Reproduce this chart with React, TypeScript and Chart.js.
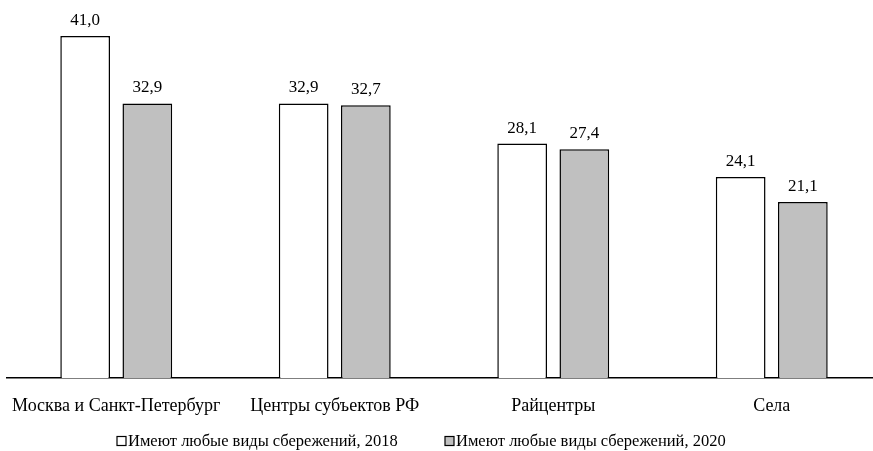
import React, { useEffect, useRef } from "react";
import { Chart, registerables } from "chart.js";

Chart.register(...registerables);

const categories = [
  "Москва и Санкт-Петербург",
  "Центры субъектов РФ",
  "Райцентры",
  "Села",
];
const series2018 = [41.0, 32.9, 28.1, 24.1];
const series2020 = [32.9, 32.7, 27.4, 21.1];
const seriesNames = [
  "Имеют любые виды сбережений, 2018",
  "Имеют любые виды сбережений, 2020",
];
const seriesColors = ["#ffffff", "#c0c0c0"];

const FONT = "'Liberation Serif', 'Times New Roman', serif";

const fmt = (v: number) => v.toFixed(1).replace(".", ",");

const valueLabels = {
  id: "valueLabels",
  afterDatasetsDraw(chart: any) {
    const ctx = chart.ctx;
    ctx.save();
    ctx.font = `17px ${FONT}`;
    ctx.fillStyle = "#000";
    ctx.textAlign = "center";
    ctx.textBaseline = "alphabetic";
    chart.data.datasets.forEach((ds: any, i: number) => {
      const meta = chart.getDatasetMeta(i);
      meta.data.forEach((bar: any, j: number) => {
        ctx.fillText(fmt(ds.data[j]), bar.x, bar.y - 11);
      });
    });
    ctx.restore();
  },
};

const customLegend = {
  id: "customLegend",
  afterDraw(chart: any) {
    const ctx = chart.ctx;
    ctx.save();
    ctx.font = `16.5px ${FONT}`;
    ctx.textBaseline = "middle";
    ctx.textAlign = "left";
    const xs = [117, 445];
    const y = 441;
    seriesNames.forEach((name, i) => {
      ctx.fillStyle = seriesColors[i];
      ctx.fillRect(xs[i], y - 4.5, 9, 9);
      ctx.strokeStyle = "#000";
      ctx.lineWidth = 1.2;
      ctx.strokeRect(xs[i], y - 4.5, 9, 9);
      ctx.fillStyle = "#000";
      ctx.fillText(name, xs[i] + 11, y + 1);
    });
    ctx.restore();
  },
};

export default function App() {
  const ref = useRef<HTMLCanvasElement | null>(null);
  useEffect(() => {
    if (!ref.current) return;
    const chart = new Chart(ref.current, {
      type: "bar",
      data: {
        labels: categories,
        datasets: [series2018, series2020].map((d, i) => ({
          label: seriesNames[i],
          data: d,
          backgroundColor: seriesColors[i],
          borderColor: "#000",
          borderWidth: 1.5,
          categoryPercentage: 0.569,
          barPercentage: 0.8,
        })),
      },
      options: {
        animation: false,
        responsive: false,
        devicePixelRatio: 1,
        layout: { padding: { left: 7, right: 0, top: 0, bottom: 0 } },
        plugins: {
          legend: { display: false },
          tooltip: { enabled: false },
        },
        scales: {
          x: {
            grid: { display: false, drawTicks: false },
            border: { display: true, color: "#000", width: 1.5 },
            ticks: {
              color: "#000",
              font: { family: FONT, size: 18 },
              padding: 17,
              maxRotation: 0,
              autoSkip: false,
            },
            afterFit: (scale: any) => {
              scale.height = 73;
              scale.paddingLeft = 0;
              scale.paddingRight = 0;
            },
          },
          y: {
            display: false,
            min: 0,
            max: 45.3,
          },
        },
      },
      plugins: [valueLabels, customLegend],
    });
    return () => chart.destroy();
  }, []);
  return (
    <div
      style={{
        position: "absolute",
        left: 0,
        top: 0,
        width: 873,
        height: 451,
        overflow: "hidden",
        background: "#fff",
      }}
    >
      <canvas ref={ref} width={881} height={451} style={{ width: 881, height: 451 }} />
    </div>
  );
}
